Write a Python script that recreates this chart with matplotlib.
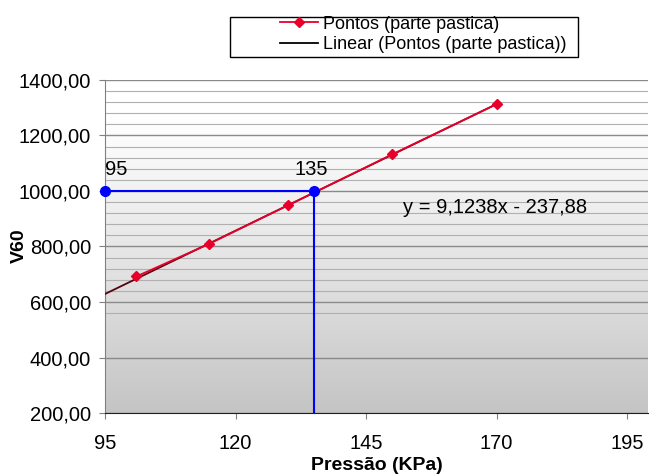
import numpy as np
import matplotlib.pyplot as plt
from matplotlib.patches import Rectangle
from matplotlib.ticker import FuncFormatter, MultipleLocator

plt.rcParams['font.family'] = ['Liberation Sans', 'DejaVu Sans']

# data
pressao = [101, 115, 130, 150, 170]
v60 = [692, 810, 948, 1132, 1313]
slope = 9.1238
intercept = -237.88
trend_x = [95, 170]
ref_x = [95, 135]
ref_y = 1000
x_ticks = [95, 120, 145, 170, 195]
minor_y = [v for v in range(560, 1400, 40) if v % 200]

fig = plt.figure(figsize=(6.5, 4.75), dpi=100)
ax = fig.add_axes([105 / 650, 62 / 475, 543 / 650, 333 / 475])
ax.set_xlim(95, 199)
ax.set_ylim(200, 1400)

# gradient background, white at top to grey at bottom
t = np.linspace(0, 1, 256)
grad = 1.0 - 0.23 * np.clip((t - 0.1) / 0.9, 0, 1) ** 1.1
img = np.stack([grad, grad, grad], axis=-1)[:, None, :].repeat(2, axis=1)
ax.imshow(img, extent=[0, 1, 0, 1], transform=ax.transAxes, aspect='auto',
          zorder=0, origin='upper')

ax.yaxis.set_major_locator(MultipleLocator(200))
ax.set_xticks(x_ticks)
ax.grid(axis='y', which='major', color='#8a8a8a', lw=1.0, zorder=1)
ax.hlines(minor_y, 95, 199, color='#b0b0b0', lw=0.8, zorder=1)
ax.tick_params(axis='both', which='major', labelsize=14.5, direction='out',
               length=4, color='#808080')
ax.tick_params(axis='x', pad=11)
ax.tick_params(axis='y', pad=6)
ax.yaxis.set_major_formatter(FuncFormatter(lambda v, p: f"{v:.2f}".replace('.', ',')))

for s in ['top', 'right']:
    ax.spines[s].set_visible(False)
ax.spines['left'].set_color('#808080')
ax.spines['bottom'].set_color('#202020')

# series and trendline
tx = np.array(trend_x)
ax.plot(tx, slope * tx + intercept, color='#5a0010', lw=1.3, zorder=3,
        label='Linear (Pontos (parte pastica))')
ax.plot(pressao, v60, color='#e8002a', lw=1.3, marker='D', ms=5,
        zorder=4, label='Pontos (parte pastica)')

# reference lines
ax.plot(ref_x, [ref_y, ref_y], color='#0000ff', lw=1.5, zorder=5)
ax.plot([ref_x[1], ref_x[1]], [200, ref_y], color='#0000ff', lw=1.5, zorder=5)
ax.plot(ref_x, [ref_y, ref_y], ls='none', marker='o', ms=7, color='#0000ff',
        zorder=6, clip_on=False)
ax.text(ref_x[0], ref_y + 45, '95', fontsize=14.5, ha='left', va='bottom')
ax.text(ref_x[1] - 3.8, ref_y + 45, '135', fontsize=14.5, ha='left', va='bottom')

ax.text(152, 942, 'y = 9,1238x - 237,88', fontsize=14.5, ha='left', va='center')

ax.set_xlabel('Pressão (KPa)', fontsize=14, fontweight='bold')
ax.xaxis.set_label_coords(0.5, -(465 - 413) / 333)
ax.set_ylabel('V60', fontsize=14, fontweight='bold')
ax.yaxis.set_label_coords((19 - 105) / 543, (413 - 246) / 333)
ax.yaxis.label.set_va('center')
ax.xaxis.label.set_va('center')

# legend box drawn on the figure, legend entries placed inside it
fig.patches.append(Rectangle((230 / 650, 1 - 57 / 475), 348 / 650, 40 / 475,
                             transform=fig.transFigure, facecolor='white',
                             edgecolor='black', lw=1.0))
h, l = ax.get_legend_handles_labels()
leg = fig.legend([h[1], h[0]], [l[1], l[0]], loc='upper left',
                 bbox_to_anchor=(278 / 650, 1 - 14 / 475), fontsize=13,
                 frameon=False, handlelength=2.1, borderpad=0.1,
                 labelspacing=0.2, handletextpad=0.3, borderaxespad=0)
leg.legend_handles[1].set_color('black')

fig.savefig('out.png', dpi=100)
